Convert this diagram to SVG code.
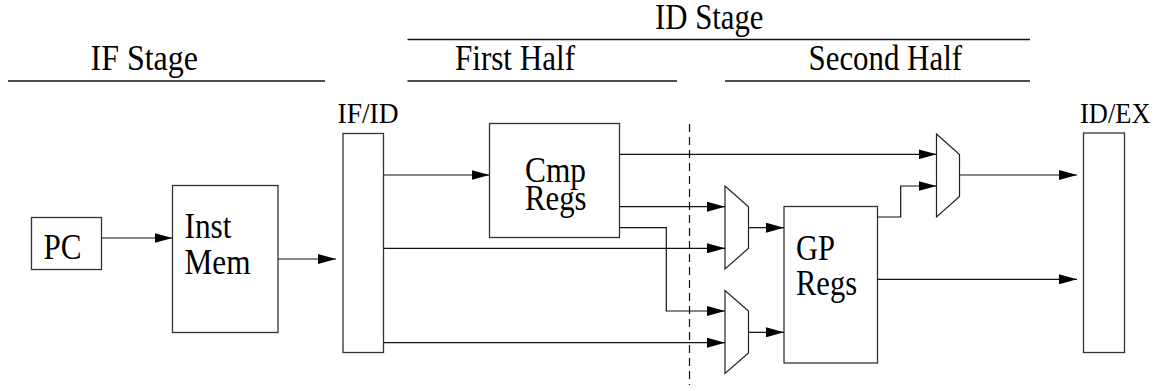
<svg xmlns="http://www.w3.org/2000/svg" width="1156" height="391" viewBox="0 0 1156 391">
<style>
  .box { fill: #fff; stroke: #333; stroke-width: 1.3; }
  .mux { fill: #fff; stroke: #222; stroke-width: 1.2; }
  .wire { fill: none; stroke: #111; stroke-width: 1.2; }
  .rule { fill: none; stroke: #111; stroke-width: 1.3; }
  .dash { fill: none; stroke: #111; stroke-width: 1.2; stroke-dasharray: 8 5; }
  text { font-family: "Liberation Serif", "Times New Roman", serif; fill: #000; }
  .head { font-size: 35px; }
  .lbl { font-size: 35px; }
  .reg { font-size: 29px; }
</style>
<defs>
  <marker id="arr" markerUnits="userSpaceOnUse" markerWidth="18" markerHeight="10" refX="18" refY="5" orient="auto">
    <path d="M0,0 L18,5 L0,10 z" fill="#000"/>
  </marker>
</defs>
<rect width="1156" height="391" fill="#fff"/>

<g id="stage-headings">
  <text class="head" x="655" y="29" textLength="108.5" lengthAdjust="spacingAndGlyphs">ID Stage</text>
  <line class="rule" x1="407.5" y1="39.5" x2="1030" y2="39.5"/>
  <text class="head" x="90.5" y="70" textLength="107.5" lengthAdjust="spacingAndGlyphs">IF Stage</text>
  <line class="rule" x1="8" y1="81" x2="325" y2="81"/>
  <text class="head" x="455" y="70" textLength="120" lengthAdjust="spacingAndGlyphs">First Half</text>
  <line class="rule" x1="407.5" y1="81" x2="677" y2="81"/>
  <text class="head" x="808.5" y="70" textLength="153.5" lengthAdjust="spacingAndGlyphs">Second Half</text>
  <line class="rule" x1="725" y1="81" x2="1030" y2="81"/>
  <line class="dash" x1="689.5" y1="124" x2="689.5" y2="385"/>
</g>

<g id="pc">
  <rect class="box" x="31.5" y="217.5" width="70" height="52"/>
  <text class="lbl" x="43.5" y="258.5" textLength="38" lengthAdjust="spacingAndGlyphs">PC</text>
</g>

<g id="inst-mem">
  <rect class="box" x="172.5" y="185.5" width="105.5" height="147"/>
  <text class="lbl" x="184.5" y="237.5" textLength="47" lengthAdjust="spacingAndGlyphs">Inst</text>
  <text class="lbl" x="184.5" y="274" textLength="66" lengthAdjust="spacingAndGlyphs">Mem</text>
</g>

<g id="if-id">
  <text class="reg" x="337.5" y="123" textLength="61" lengthAdjust="spacingAndGlyphs">IF/ID</text>
  <rect class="box" x="343" y="133.5" width="40.5" height="219"/>
</g>

<g id="cmp-regs">
  <rect class="box" x="489.5" y="123.5" width="130" height="114"/>
  <text class="lbl" x="525" y="182" textLength="61" lengthAdjust="spacingAndGlyphs">Cmp</text>
  <text class="lbl" x="525" y="209.5" textLength="61.5" lengthAdjust="spacingAndGlyphs">Regs</text>
</g>

<g id="mux1">
  <path class="mux" d="M725,186 L748.5,206.7 L748.5,248.3 L725,269 Z"/>
</g>

<g id="mux2">
  <path class="mux" d="M725,290.5 L748.5,311 L748.5,353 L725,373.5 Z"/>
</g>

<g id="gp-regs">
  <rect class="box" x="784" y="206.5" width="93.5" height="156.5"/>
  <text class="lbl" x="796" y="259.5" textLength="39" lengthAdjust="spacingAndGlyphs">GP</text>
  <text class="lbl" x="796" y="295" textLength="61" lengthAdjust="spacingAndGlyphs">Regs</text>
</g>

<g id="mux3">
  <path class="mux" d="M936.5,134 L959.5,154.5 L959.5,196.5 L936.5,217 Z"/>
</g>

<g id="id-ex">
  <text class="reg" x="1080" y="123.3" textLength="70.5" lengthAdjust="spacingAndGlyphs">ID/EX</text>
  <rect class="box" x="1083.5" y="133" width="41" height="219.5"/>
</g>

<g id="connectors">
  <line class="wire" x1="101.5" y1="238" x2="172.5" y2="238" marker-end="url(#arr)"/>
  <line class="wire" x1="278" y1="259" x2="336" y2="259" marker-end="url(#arr)"/>
  <line class="wire" x1="383.5" y1="175" x2="489.5" y2="175" marker-end="url(#arr)"/>
  <line class="wire" x1="619.5" y1="154.3" x2="936.5" y2="154.3" marker-end="url(#arr)"/>
  <line class="wire" x1="619.5" y1="206.7" x2="725" y2="206.7" marker-end="url(#arr)"/>
  <polyline class="wire" points="619.5,227.7 666.3,227.7 666.3,311 725,311" marker-end="url(#arr)"/>
  <line class="wire" x1="383.5" y1="248.3" x2="725" y2="248.3" marker-end="url(#arr)"/>
  <line class="wire" x1="383.5" y1="342.7" x2="725" y2="342.7" marker-end="url(#arr)"/>
  <line class="wire" x1="748.5" y1="227.7" x2="784" y2="227.7" marker-end="url(#arr)"/>
  <line class="wire" x1="748.5" y1="332.3" x2="784" y2="332.3" marker-end="url(#arr)"/>
  <polyline class="wire" points="877.5,217 900.7,217 900.7,186 936.5,186" marker-end="url(#arr)"/>
  <line class="wire" x1="959.5" y1="175" x2="1077" y2="175" marker-end="url(#arr)"/>
  <line class="wire" x1="877.5" y1="279.3" x2="1077" y2="279.3" marker-end="url(#arr)"/>
</g>
</svg>
